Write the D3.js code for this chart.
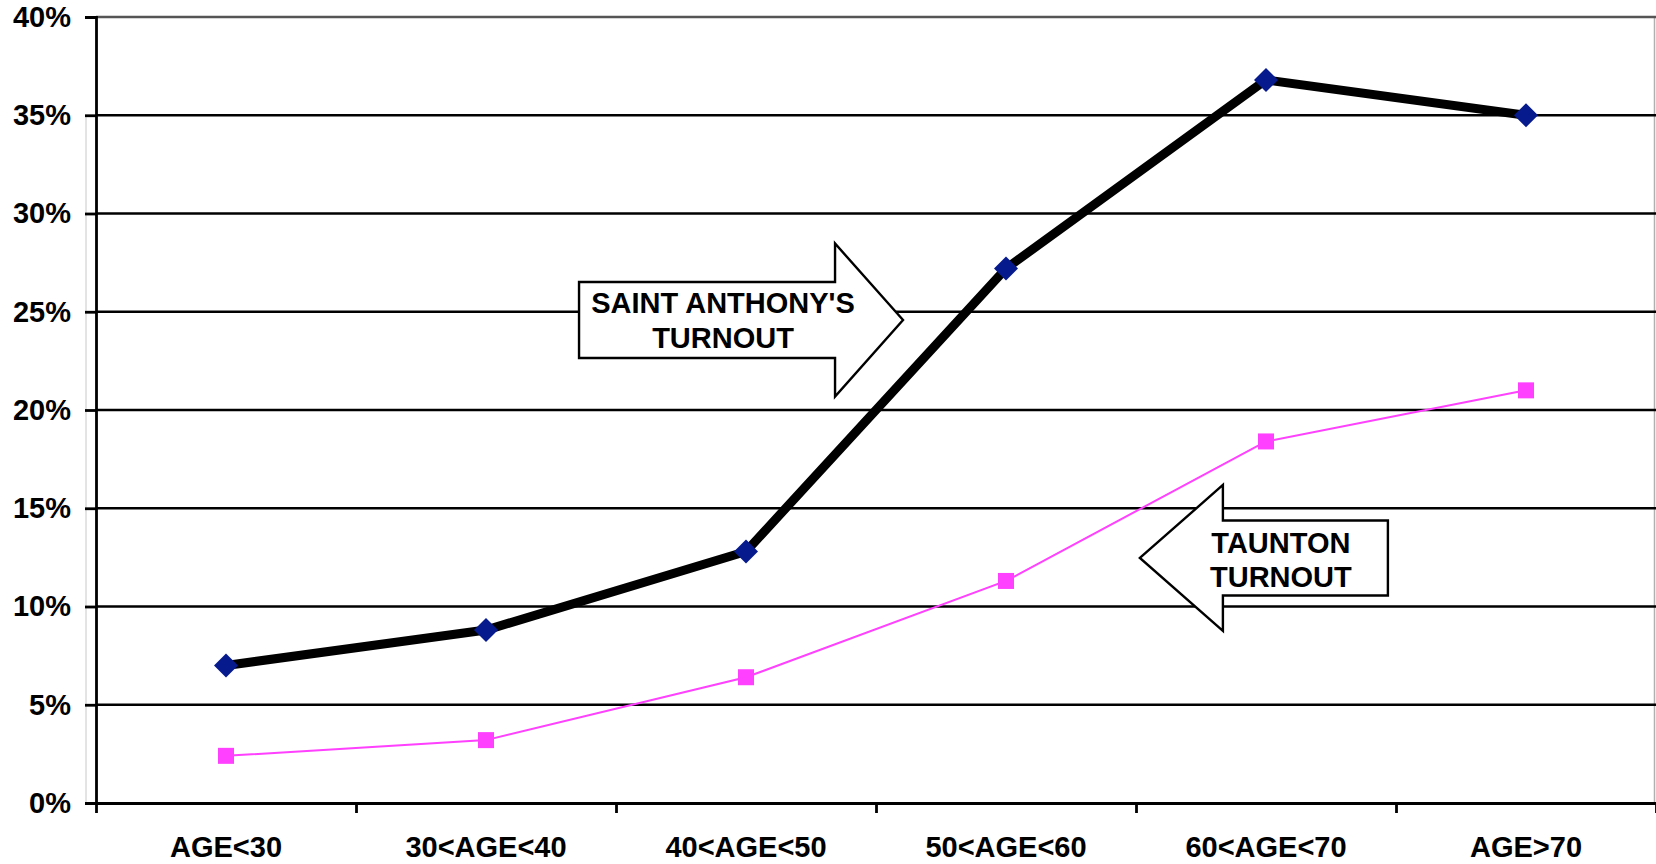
<!DOCTYPE html>
<html>
<head>
<meta charset="utf-8">
<script src="https://cdn.jsdelivr.net/npm/d3@7"></script>
<style>
  html, body { margin: 0; padding: 0; background: #fff; }
  svg { display: block; }
  text { font-family: "Liberation Sans", Arial, Helvetica, sans-serif; font-weight: bold; fill: #000; }
</style>
</head>
<body>
<svg id="chart" width="1656" height="864"></svg>
<script>
// ---- data ----
const categories = ["AGE<30", "30<AGE<40", "40<AGE<50", "50<AGE<60", "60<AGE<70", "AGE>70"];
const saintAnthony = [0.070, 0.088, 0.128, 0.272, 0.368, 0.350];
const taunton = [0.024, 0.032, 0.064, 0.113, 0.184, 0.210];
const yTicks = [0, 0.05, 0.10, 0.15, 0.20, 0.25, 0.30, 0.35, 0.40];
const annotationTexts = [["SAINT ANTHONY'S", "TURNOUT"], ["TAUNTON", "TURNOUT"]];
// annotation anchors (tip) in data space: category-index units and value
const annotationTipX = [3.104, 4.015];
const annotationTipY = [0.2458, 0.1247];
const annotationDir = [1, -1];

// ---- layout ----
const W = 1656, H = 864;
const plot = { left: 96, right: 1656, top: 17, bottom: 803 };

const svg = d3.select("#chart");

const x = d3.scaleBand().domain(categories).range([plot.left, plot.right]).padding(0);
const xi = d3.scaleLinear().domain([0, categories.length]).range([plot.left, plot.right]);
const y = d3.scaleLinear().domain([0, 0.40]).range([plot.bottom, plot.top]);
const cx = c => x(c) + x.bandwidth() / 2;

// faint outer border artifacts
svg.append("line").attr("x1", 86).attr("x2", 86).attr("y1", y(0.35)).attr("y2", plot.bottom)
  .attr("stroke", "#c8c8c8").attr("stroke-width", 1);
svg.append("line").attr("x1", plot.right - 1.5).attr("x2", plot.right - 1.5).attr("y1", plot.top).attr("y2", plot.bottom)
  .attr("stroke", "#b0b0b0").attr("stroke-width", 1.5);

// gridlines
svg.append("g").selectAll("line").data(yTicks.filter(d => d > 0)).join("line")
  .attr("x1", plot.left).attr("x2", plot.right)
  .attr("y1", d => y(d)).attr("y2", d => y(d))
  .attr("stroke", d => d === 0.40 ? "#555" : "#000")
  .attr("stroke-width", 2.6);

// y axis
const yAxis = d3.axisLeft(y).tickValues(yTicks).tickFormat(d3.format(".0%")).tickSize(11).tickPadding(14);
const gy = svg.append("g").attr("transform", `translate(${plot.left},0)`).call(yAxis);
gy.select(".domain").attr("stroke", "#000").attr("stroke-width", 2.8);
gy.selectAll(".tick line").attr("stroke", "#000").attr("stroke-width", 2.8);
gy.selectAll(".tick text").style("font-size", "29px").attr("font-family", null).attr("font-size", null);

// x axis
const xAxis = d3.axisBottom(xi).tickValues(d3.range(0, categories.length + 1)).tickFormat("").tickSize(10).tickSizeOuter(0);
const gx = svg.append("g").attr("transform", `translate(0,${plot.bottom})`).call(xAxis);
gx.select(".domain").attr("stroke", "#000").attr("stroke-width", 2.8);
gx.selectAll(".tick line").attr("stroke", "#000").attr("stroke-width", 2.8);

svg.append("g").selectAll("text").data(categories).join("text")
  .attr("x", d => cx(d)).attr("y", 857)
  .attr("text-anchor", "middle")
  .style("font-size", "29px")
  .text(d => d);

// annotation arrows
const arrowGeom = [
  { bodyLen: 324, headLen: 68, bodyHalf: 38, headHalf: 76.5, textDx: -180, lineDy: [-7, 28] },
  { bodyLen: 248, headLen: 83, bodyHalf: 37.5, headHalf: 73, textDx: 141, lineDy: [-5, 29] }
];
annotationTexts.forEach((lines, i) => {
  const tx = xi(annotationTipX[i]), ty = y(annotationTipY[i]);
  const g = arrowGeom[i], s = annotationDir[i];
  const pts = [
    [tx, ty],
    [tx - s * g.headLen, ty - g.headHalf],
    [tx - s * g.headLen, ty - g.bodyHalf],
    [tx - s * g.bodyLen, ty - g.bodyHalf],
    [tx - s * g.bodyLen, ty + g.bodyHalf],
    [tx - s * g.headLen, ty + g.bodyHalf],
    [tx - s * g.headLen, ty + g.headHalf]
  ];
  const ag = svg.append("g");
  ag.append("path").attr("d", d3.line()(pts) + "Z")
    .attr("fill", "#fff").attr("stroke", "#000").attr("stroke-width", 2.4).attr("stroke-linejoin", "miter");
  ag.selectAll("text").data(lines).join("text")
    .attr("x", tx + g.textDx).attr("y", (d, j) => ty + g.lineDy[j])
    .attr("text-anchor", "middle").style("font-size", "29px")
    .text(d => d);
});

// series lines
const line = d3.line().x((d, i) => cx(categories[i])).y(d => y(d));

svg.append("path").datum(taunton).attr("d", line)
  .attr("fill", "none").attr("stroke", "#ff40ff").attr("stroke-width", 2);
svg.append("g").selectAll("rect").data(taunton).join("rect")
  .attr("x", (d, i) => cx(categories[i]) - 8).attr("y", d => y(d) - 8)
  .attr("width", 16).attr("height", 16).attr("fill", "#ff40ff");

svg.append("path").datum(saintAnthony).attr("d", line)
  .attr("fill", "none").attr("stroke", "#000").attr("stroke-width", 9).attr("stroke-linejoin", "round");
svg.append("g").selectAll("path").data(saintAnthony).join("path")
  .attr("transform", (d, i) => `translate(${cx(categories[i])},${y(d)})`)
  .attr("d", "M0,-12L12,0L0,12L-12,0Z")
  .attr("fill", "#061a8e");
</script>
</body>
</html>
